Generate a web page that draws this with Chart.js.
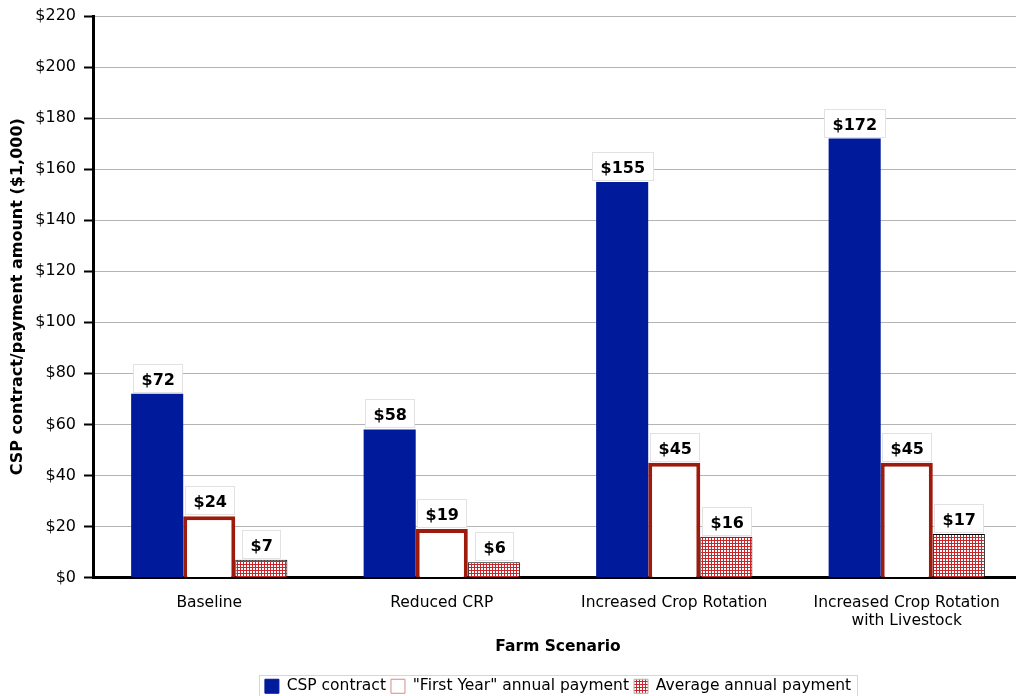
<!DOCTYPE html>
<html>
<head>
<meta charset="utf-8">
<script src="https://cdn.jsdelivr.net/npm/chart.js@4.4.1/dist/chart.umd.min.js"></script>
<style>
  html, body { margin: 0; padding: 0; background: #fff; overflow: hidden; }
  #wrap { width: 1032px; height: 704px; }
</style>
</head>
<body>
<div id="wrap"><canvas id="cspChart"></canvas></div>
<script>
// farm scenarios and payment amounts ($1,000)
const scenarios = ['Baseline', 'Reduced CRP', 'Increased Crop Rotation', ['Increased Crop Rotation', 'with Livestock']];
const cspContract = [72, 58, 155, 172];
const firstYearPayment = [24, 19, 45, 45];
const avgAnnualPayment = [7, 6, 16, 17];
const seriesNames = ['CSP contract', '"First Year" annual payment', 'Average annual payment'];

const FONT = 'DejaVu Sans, Verdana, sans-serif';

// small red grid fill for the average payment bars
function gridPattern() {
  const c = document.createElement('canvas');
  c.width = 3; c.height = 3;
  const g = c.getContext('2d');
  g.fillStyle = '#ffffff';
  g.fillRect(0, 0, 3, 3);
  g.fillStyle = '#c8262a';
  g.fillRect(0, 0, 3, 1);
  g.fillRect(0, 0, 1, 3);
  return g.createPattern(c, 'repeat');
}
const redGrid = gridPattern();

// white value boxes above each bar
const valueLabels = {
  id: 'valueLabels',
  afterDatasetsDraw(chart) {
    const ctx = chart.ctx;
    ctx.save();
    ctx.font = 'bold 16px ' + FONT;
    chart.data.datasets.forEach((ds, i) => {
      chart.getDatasetMeta(i).data.forEach((bar, j) => {
        const txt = '$' + ds.data[j];
        const tw = ctx.measureText(txt).width;
        const w = Math.round(tw + 16), h = 28;
        const left = Math.round(bar.x - w / 2) + 0.5;
        const top = Math.round(bar.y - h - 2) + 0.5;
        ctx.fillStyle = '#ffffff';
        ctx.fillRect(left, top, w, h);
        ctx.strokeStyle = '#e2e2e2';
        ctx.lineWidth = 1;
        ctx.strokeRect(left, top, w, h);
        ctx.fillStyle = '#000000';
        ctx.textBaseline = 'alphabetic';
        ctx.fillText(txt, left + 8, top + 20);
      });
    });
    ctx.restore();
  }
};

// thin frame round the legend
const legendFrame = {
  id: 'legendFrame',
  afterDraw(chart) {
    const boxes = chart.legend.legendHitBoxes;
    if (!boxes.length) return;
    const ctx = chart.ctx;
    const x0 = boxes[0].left - 6;
    const last = boxes[boxes.length - 1];
    const x1 = last.left + last.width + 6;
    const y0 = boxes[0].top - 4;
    ctx.save();
    ctx.strokeStyle = '#d6d6d6';
    ctx.lineWidth = 1;
    ctx.strokeRect(Math.round(x0) + 0.5, Math.round(y0) + 0.5, Math.round(x1 - x0), 40);
    ctx.restore();
  }
};

new Chart(document.getElementById('cspChart'), {
  type: 'bar',
  data: {
    labels: scenarios,
    datasets: [
      { label: seriesNames[0], data: cspContract, backgroundColor: '#001a9c', borderWidth: 0 },
      { label: seriesNames[1], data: firstYearPayment, backgroundColor: '#ffffff', borderColor: '#9e1a0c', borderWidth: 4 },
      { label: seriesNames[2], data: avgAnnualPayment, backgroundColor: redGrid, borderColor: '#000000', borderWidth: 1 }
    ]
  },
  options: {
    responsive: true,
    maintainAspectRatio: false,
    animation: false,
    layout: { padding: { top: 13, right: 9, left: 0, bottom: 0 } },
    categoryPercentage: 0.672,
    barPercentage: 1,
    plugins: {
      tooltip: { enabled: false },
      legend: {
        position: 'bottom',
        fullSize: false,
        labels: {
          color: '#000',
          font: { family: FONT, size: 15.5 },
          boxWidth: 14,
          boxHeight: 14,
          padding: 5,
          generateLabels(chart) {
            return chart.data.datasets.map((ds, i) => ({
              text: ds.label,
              fillStyle: ds.backgroundColor,
              strokeStyle: i === 1 ? '#d88a8a' : (i === 2 ? '#b0b0b0' : '#001a9c'),
              lineWidth: 1,
              datasetIndex: i,
              hidden: false
            }));
          }
        }
      }
    },
    scales: {
      x: {
        grid: { display: false, drawTicks: false },
        border: { color: '#000', width: 3 },
        ticks: { color: '#000', font: { family: FONT, size: 15.5 }, padding: 16, maxRotation: 0, autoSkip: false },
        title: { display: true, text: 'Farm Scenario', color: '#000', font: { family: FONT, size: 15.5, weight: 'bold' }, padding: { top: 0, bottom: 17 } },
        afterFit(scale) { scale.height = 96; }
      },
      y: {
        min: 0,
        max: 220,
        ticks: { stepSize: 20, color: '#000', font: { family: FONT, size: 16, lineHeight: 1 }, padding: 8, callback: v => '$' + v },
        grid: { color: '#b4b4b4', lineWidth: 1, tickLength: 9, tickColor: '#000', tickWidth: 2 },
        border: { color: '#000', width: 3 },
        title: { display: true, text: 'CSP contract/payment amount ($1,000)', color: '#000', font: { family: FONT, size: 16, weight: 'bold' }, padding: { top: 8, bottom: 4 } },
        afterFit(scale) { scale.width = 93; }
      }
    }
  },
  plugins: [valueLabels, legendFrame]
});
</script>
</body>
</html>
